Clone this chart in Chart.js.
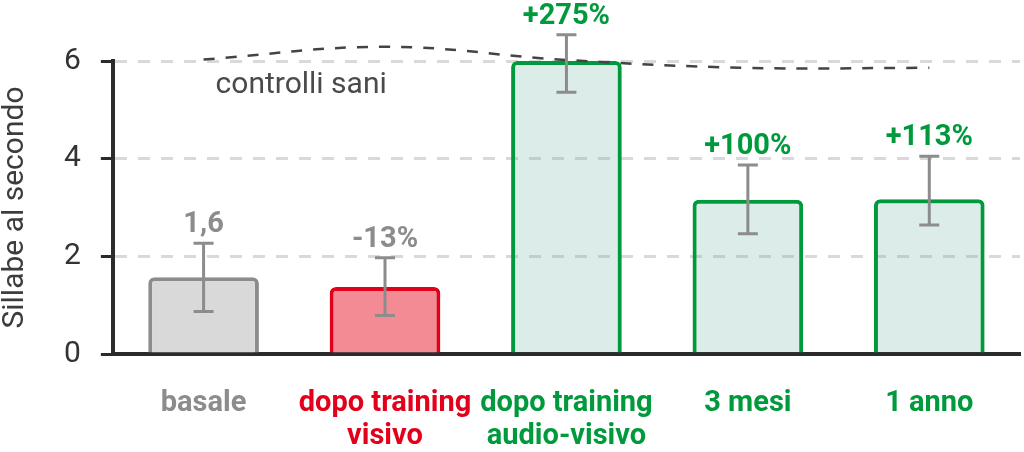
<!DOCTYPE html>
<html>
<head>
<meta charset="utf-8">
<script src="https://cdn.jsdelivr.net/npm/chart.js@4.4.1/dist/chart.umd.min.js"></script>
<style>
  body { margin: 0; background: #fff; }
  #wrap { width: 1024px; height: 452px; }
</style>
</head>
<body>
<div id="wrap"><canvas id="myChart" width="1024" height="452"></canvas></div>
<script>
var categories = [['basale'], ['dopo training', 'visivo'], ['dopo training', 'audio-visivo'], ['3 mesi'], ['1 anno']];
var meanValues = [1.57, 1.37, 6.0, 3.16, 3.17];
var errorLow = [0.87, 0.79, 5.36, 2.46, 2.64];
var errorHigh = [2.27, 1.97, 6.54, 3.87, 4.05];
var changeLabels = ['1,6', '-13%', '+275%', '+100%', '+113%'];
var controlliSani = [6.03, 6.29, 6.02, 5.86, 5.86];
var controlliLabel = 'controlli sani';
var yTicks = [0, 2, 4, 6];

var GRAY = '#8c8c8c', RED = '#e3001b', GREEN = '#009a3d';
var tickColors = [GRAY, RED, GREEN, GREEN, GREEN];
var changeColors = [GRAY, GRAY, GREEN, GREEN, GREEN];

// error bars, percent labels and the "controlli sani" note
var extras = {
  id: 'extras',
  afterDatasetsDraw: function(chart) {
    var ctx = chart.ctx, x = chart.scales.x, y = chart.scales.y;
    ctx.save();
    ctx.lineWidth = 3;
    ctx.strokeStyle = GRAY;
    ctx.textAlign = 'center';
    ctx.textBaseline = 'alphabetic';
    ctx.font = 'bold 29px Roboto';
    meanValues.forEach(function(v, i) {
      var px = x.getPixelForValue(i);
      var top = y.getPixelForValue(errorHigh[i]);
      var bot = y.getPixelForValue(errorLow[i]);
      ctx.beginPath();
      ctx.moveTo(px, top); ctx.lineTo(px, bot);
      ctx.moveTo(px - 10, top); ctx.lineTo(px + 10, top);
      ctx.moveTo(px - 10, bot); ctx.lineTo(px + 10, bot);
      ctx.stroke();
      ctx.fillStyle = changeColors[i];
      ctx.fillText(changeLabels[i], px, top - 11);
    });
    ctx.font = '30px Roboto';
    ctx.fillStyle = '#4a4a4a';
    ctx.textAlign = 'left';
    ctx.fillText(controlliLabel, x.getPixelForValue(0) + 12, y.getPixelForValue(6) + 32);
    ctx.restore();
  }
};

function makeChart() {
  var ctx = document.getElementById('myChart').getContext('2d');
  new Chart(ctx, {
    type: 'bar',
    data: {
      labels: categories,
      datasets: [{
        type: 'line',
        label: controlliLabel,
        data: controlliSani,
        borderColor: '#444',
        borderWidth: 2.5,
        borderDash: [11, 11],
        pointRadius: 0,
        tension: 0.4,
        fill: false,
        clip: false,
        order: 0
      }, {
        label: 'Sillabe al secondo',
        data: meanValues,
        backgroundColor: ['#d9d9d9', '#f28b94', 'rgba(115,183,167,0.25)', 'rgba(115,183,167,0.25)', 'rgba(115,183,167,0.25)'],
        borderColor: [GRAY, RED, GREEN, GREEN, GREEN],
        borderWidth: 4,
        borderRadius: 6,
        barPercentage: 0.61,
        categoryPercentage: 1,
        order: 1
      }]
    },
    options: {
      responsive: false,
      animation: false,
      layout: { padding: { top: 61, right: 4, left: 0, bottom: 0 } },
      plugins: { legend: { display: false }, tooltip: { enabled: false } },
      scales: {
        x: {
          grid: { display: false, drawTicks: false },
          border: { display: true, color: '#2b2b2b', width: 4 },
          afterFit: function(axis) { axis.height = 98; },
          ticks: {
            color: tickColors,
            padding: 33,
            font: { family: 'Roboto', size: 29, weight: 'bold', lineHeight: 1.15 }
          }
        },
        y: {
          min: 0,
          max: 6,
          afterBuildTicks: function(axis) {
            axis.ticks = yTicks.map(function(v) { return { value: v }; });
          },
          grid: {
            color: '#d9d9d9',
            lineWidth: 3,
            tickColor: '#2b2b2b',
            tickWidth: 3,
            tickLength: 12
          },
          border: { display: true, color: '#2b2b2b', width: 4, dash: [12, 11] },
          ticks: {
            color: '#333',
            padding: 20,
            font: { family: 'Roboto', size: 30 }
          },
          title: {
            display: true,
            text: 'Sillabe al secondo',
            color: '#3c3c3c',
            font: { family: 'Roboto', size: 30, lineHeight: 1 },
            padding: { top: 0, bottom: 14 }
          }
        }
      }
    },
    plugins: [extras]
  });
}

makeChart();
</script>
</body>
</html>
